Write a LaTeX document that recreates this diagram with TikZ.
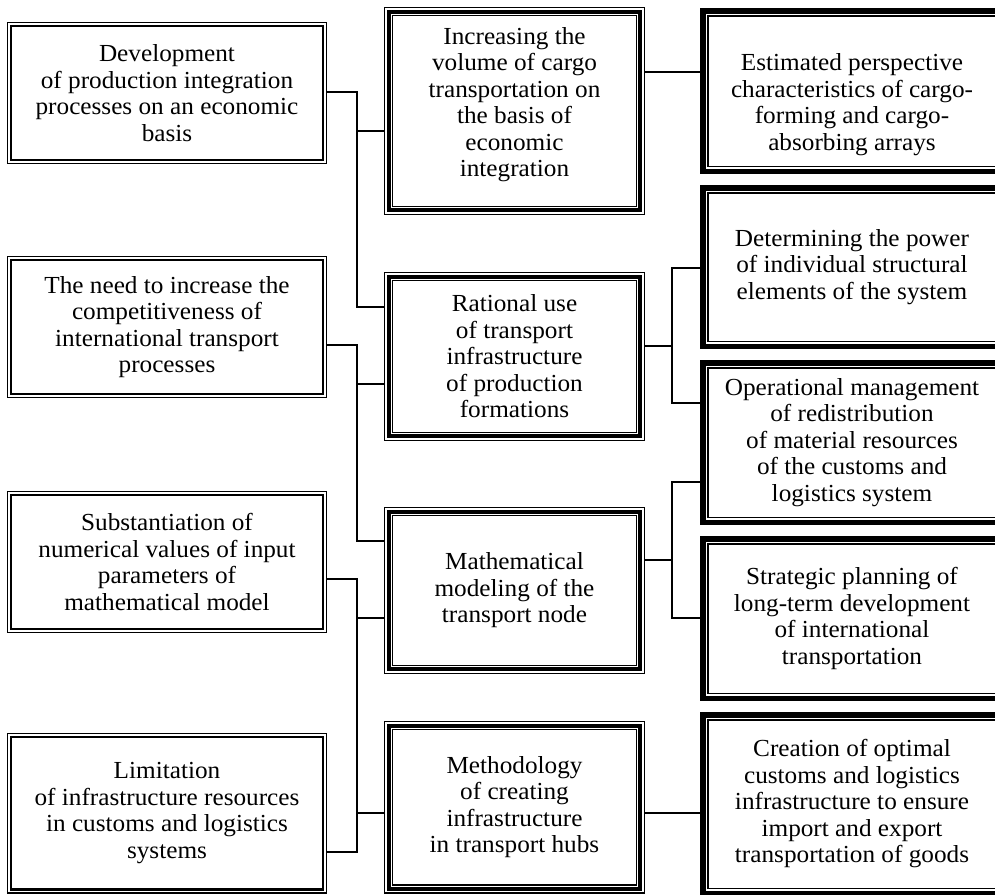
\documentclass[tikz,border=0pt]{standalone}
\usepackage{fontspec}
\setmainfont{Liberation Serif}[FakeStretch=1.03]
\newcommand\insetrect[3]{\draw[line width=#3] ([shift={(#2,-#2)}]#1.north west) rectangle ([shift={(-#2,#2)}]#1.south east);}
\newcommand\myframeL[1]{\insetrect{#1}{0.65pt}{1.3pt}\insetrect{#1}{4.15pt}{2.3pt}}
\newcommand\myframeM[1]{\insetrect{#1}{0.7pt}{1.4pt}\insetrect{#1}{4.7pt}{3.8pt}\insetrect{#1}{8.7pt}{1.4pt}}
\newcommand\myframeR[1]{\insetrect{#1}{2.75pt}{5.5pt}\insetrect{#1}{7.8pt}{1.4pt}}
\begin{document}
\begin{tikzpicture}[x=1pt,y=-1pt,
  box/.style={rectangle, inner sep=0pt, outer sep=0pt, align=center,
    font=\fontsize{24.5}{26.5}\selectfont},
  lbox/.style={box, minimum width=320pt},
  mbox/.style={box, minimum width=261pt},
  rbox/.style={box, minimum width=304pt},
  conn/.style={line width=1.3pt}]
\useasboundingbox (0,0) rectangle (995,894);
\clip (0,0) rectangle (995,894);
% left column
\node[lbox, minimum height=142pt] (L1) at (167,93) {Development\\ of production integration\\ processes on an economic\\ basis};
\node[lbox, minimum height=142pt] (L2) at (167,327) {The need to increase the\\ competitiveness of\\ international transport\\ processes};
\node[lbox, minimum height=142pt] (L3) at (167,562) {Substantiation of\\ numerical values of input\\ parameters of\\ mathematical model};
\node[lbox, minimum height=160.5pt] (L4) at (167,813.25) {Limitation\\ of infrastructure resources\\ in customs and logistics\\ systems};
% middle column
\node[mbox, minimum height=208pt] (M1) at (514.5,111) {Increasing the\\ volume of cargo\\ transportation on\\ the basis of\\ economic\\ integration\rule[-18pt]{0pt}{0pt}};
\node[mbox, minimum height=169pt] (M2) at (514.5,356.5) {Rational use\\ of transport\\ infrastructure\\ of production\\ formations};
\node[mbox, minimum height=167pt] (M3) at (514.5,590.5) {Mathematical\\ modeling of the\\ transport node};
\node[mbox, minimum height=172.5pt] (M4) at (514.5,807.25) {Methodology\\ of creating\\ infrastructure\\ in transport hubs};
% right column
\node[rbox, minimum height=166pt] (R1) at (852,91) {\rule{0pt}{44pt}Estimated perspective\\ characteristics of cargo-\\ forming and cargo-\\ absorbing arrays};
\node[rbox, minimum height=164pt] (R2) at (852,267) {Determining the power\\ of individual structural\\ elements of the system};
\node[rbox, minimum height=165pt] (R3) at (852,442.5) {Operational management\\ of redistribution\\ of material resources\\ of the customs and\\ logistics system};
\node[rbox, minimum height=165pt] (R4) at (852,618.5) {Strategic planning of\\ long-term development\\ of international\\ transportation};
\node[rbox, minimum height=184pt] (R5) at (852,804) {Creation of optimal\\ customs and logistics\\ infrastructure to ensure\\ import and export\\ transportation of goods};
% frames
\myframeL{L1}\myframeL{L2}\myframeL{L3}\myframeL{L4}
\myframeM{M1}\myframeM{M2}\myframeM{M3}\myframeM{M4}
\myframeR{R1}\myframeR{R2}\myframeR{R3}\myframeR{R4}\myframeR{R5}
% left connectors
\draw[conn] ([yshift=1pt]L1.east) -- ++(30,0) |- ([yshift=49.5pt]M2.west);
\draw[conn] ([yshift=-20pt]M1.west) -- ++(-27,0);
\draw[conn] ([yshift=-18pt]L2.east) -- ++(30,0) |- ([yshift=49.5pt]M3.west);
\draw[conn] ([yshift=-27.5pt]M2.west) -- ++(-27,0);
\draw[conn] ([yshift=-17pt]L3.east) -- ++(30,0) |- ([yshift=-38.75pt]L4.east);
\draw[conn] ([yshift=-27.5pt]M3.west) -- ++(-27,0);
\draw[conn] ([yshift=-5.75pt]M4.west) -- ++(-27,0);
% right connectors
\draw[conn] ([yshift=39pt]M1.east) -- ([yshift=19pt]R1.west);
\draw[conn] ([yshift=-1pt]R2.west) -- ++(-28,0) |- ([yshift=39.5pt]R3.west);
\draw[conn] ([yshift=10.5pt]M2.east) -- ++(27,0);
\draw[conn] ([yshift=-39.5pt]R3.west) -- ++(-28,0) |- ([yshift=0.5pt]R4.west);
\draw[conn] ([yshift=30.5pt]M3.east) -- ++(27,0);
\draw[conn] ([yshift=-5.75pt]M4.east) -- ([yshift=-9pt]R5.west);
\end{tikzpicture}
\end{document}
